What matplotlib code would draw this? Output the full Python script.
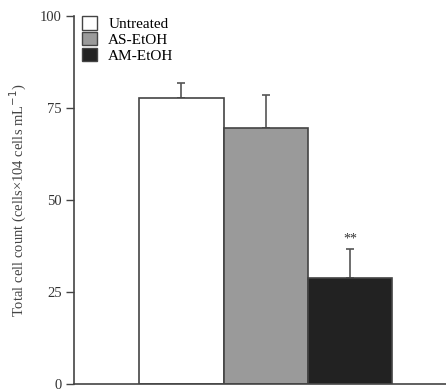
import numpy as np
import matplotlib.pyplot as plt
from matplotlib.patches import Patch

plt.rcParams['font.family'] = 'serif'
plt.rcParams['font.serif'] = ['Liberation Serif', 'DejaVu Serif']

groups = ['Untreated', 'AS-EtOH', 'AM-EtOH']
means = [77.8, 69.5, 28.7]
errs = [4.0, 9.0, 8.0]
colors = ['white', '#9a9a9a', '#222222']
yticks = [0, 25, 50, 75, 100]

edge = '#444444'
fig = plt.figure(figsize=(4.46, 3.9), dpi=100)
ax = fig.add_axes([0.166, 0.0154, 0.834, 0.9436])

x = np.arange(len(groups))
ax.bar(x, means, width=1.0, color=colors, edgecolor=edge, linewidth=1.2, zorder=2)
# upper error bars only
ax.errorbar(x, means, yerr=[np.zeros(len(errs)), errs], fmt='none',
            ecolor='#555555', elinewidth=1.2, capsize=3, capthick=1.2, zorder=1)
ax.text(x[2], means[2] + errs[2] + 0.8, '**', ha='center', va='bottom',
        fontsize=10, color='#333333')

ax.set_xlim(-1.274, 3.14)
ax.set_ylim(0, 100)
ax.set_xticks([])
ax.set_yticks(yticks)
ax.tick_params(axis='y', direction='out', length=6, width=1.0, colors=edge,
               labelsize=10.5, labelcolor='#333333', pad=3)
for s in ['top', 'right']:
    ax.spines[s].set_visible(False)
for s in ['left', 'bottom']:
    ax.spines[s].set_color(edge)
    ax.spines[s].set_linewidth(1.2)
ax.set_ylabel('Total cell count (cells\u00d7104 cells mL$^{-1}$)', fontsize=10.5,
              color='#444444', labelpad=8)

handles = [Patch(facecolor=c, edgecolor=edge, linewidth=1.0) for c in colors]
ax.legend(handles, groups, loc='upper left', bbox_to_anchor=(0.022, 1.0),
          frameon=False, fontsize=11, handlelength=1.0, handleheight=1.0,
          handletextpad=0.7, labelspacing=0.05, borderpad=0, borderaxespad=0)

fig.savefig('out.png', dpi=100)
